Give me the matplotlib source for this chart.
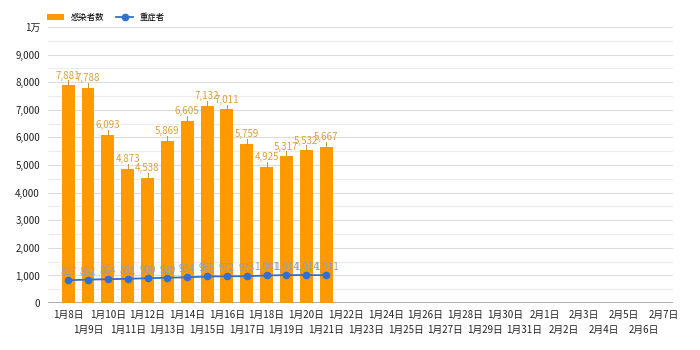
import matplotlib.pyplot as plt
import numpy as np

plt.rcParams['font.family'] = ['Noto Sans CJK JP', 'DejaVu Sans']

dates = ["1月8日", "1月9日", "1月10日", "1月11日", "1月12日", "1月13日", "1月14日",
         "1月15日", "1月16日", "1月17日", "1月18日", "1月19日", "1月20日", "1月21日",
         "1月22日", "1月23日", "1月24日", "1月25日", "1月26日", "1月27日", "1月28日",
         "1月29日", "1月30日", "1月31日", "2月1日", "2月2日", "2月3日", "2月4日",
         "2月5日", "2月6日", "2月7日"]
infected = [7881, 7788, 6093, 4873, 4538, 5869, 6605, 7132, 7011, 5759, 4925, 5317, 5532, 5667]
severe = [827, 852, 864, 881, 900, 920, 934, 965, 972, 973, 1001, 1014, 1014, 1011]

bar_color = "#ff9900"
line_color = "#2f6fd6"

fig = plt.figure(figsize=(7, 3.5), dpi=100)
ax = fig.add_axes([0.069, 0.134, 0.893, 0.789])

x_all = np.arange(len(dates))
x = np.arange(len(infected))

# 罫線 (500ごと)
for v in range(500, 10001, 500):
    ax.axhline(v, color="#ebebeb" if v % 1000 else "#dcdcdc", lw=0.8, zorder=0)
ax.axhline(0, color="#9e9e9e", lw=1.2, zorder=1)

bars = ax.bar(x, infected, width=0.65, color=bar_color, zorder=2, label="感染者数")
for xi, v in zip(x, infected):
    ax.plot([xi, xi], [v, v + 180], color="#c9962f", lw=0.7, zorder=3)
    ax.text(xi, v + 170, f"{v:,}", ha="center", va="bottom", fontsize=7,
            color="#d9a03c", zorder=4)

line, = ax.plot(x, severe, color=line_color, lw=1.3, marker="o", ms=4.5, zorder=5,
                label="重症者")
for xi, v in zip(x, severe):
    ax.text(xi, v + 110, f"{v:,}", ha="center", va="bottom", fontsize=7,
            color="#8aa0c0", zorder=6)

ax.set_xlim(-1.0, 30.5)
ax.set_ylim(0, 10000)
ax.set_yticks(range(0, 10001, 1000))
ax.set_yticklabels([f"{v:,}" for v in range(0, 10000, 1000)] + ["1万"])

# 日付ラベルは2段に互い違い
ax.set_xticks(x_all[::2])
ax.set_xticklabels(dates[::2])
ax.set_xticks(x_all[1::2], minor=True)
ax.set_xticklabels(dates[1::2], minor=True)

ax.tick_params(axis="both", which="both", length=0, labelsize=7, colors="#222222")
ax.tick_params(axis="y", pad=6)
ax.tick_params(axis="x", which="major", pad=5)
ax.tick_params(axis="x", which="minor", pad=16)
for s in ax.spines.values():
    s.set_visible(False)

ax.legend([bars, line], ["感染者数", "重症者"], loc="lower left",
          bbox_to_anchor=(-0.01, 1.0), ncol=2, frameon=False, fontsize=6,
          handlelength=2.0, columnspacing=1.5, borderaxespad=0.2)

fig.savefig("out.png", dpi=100, facecolor="white")
